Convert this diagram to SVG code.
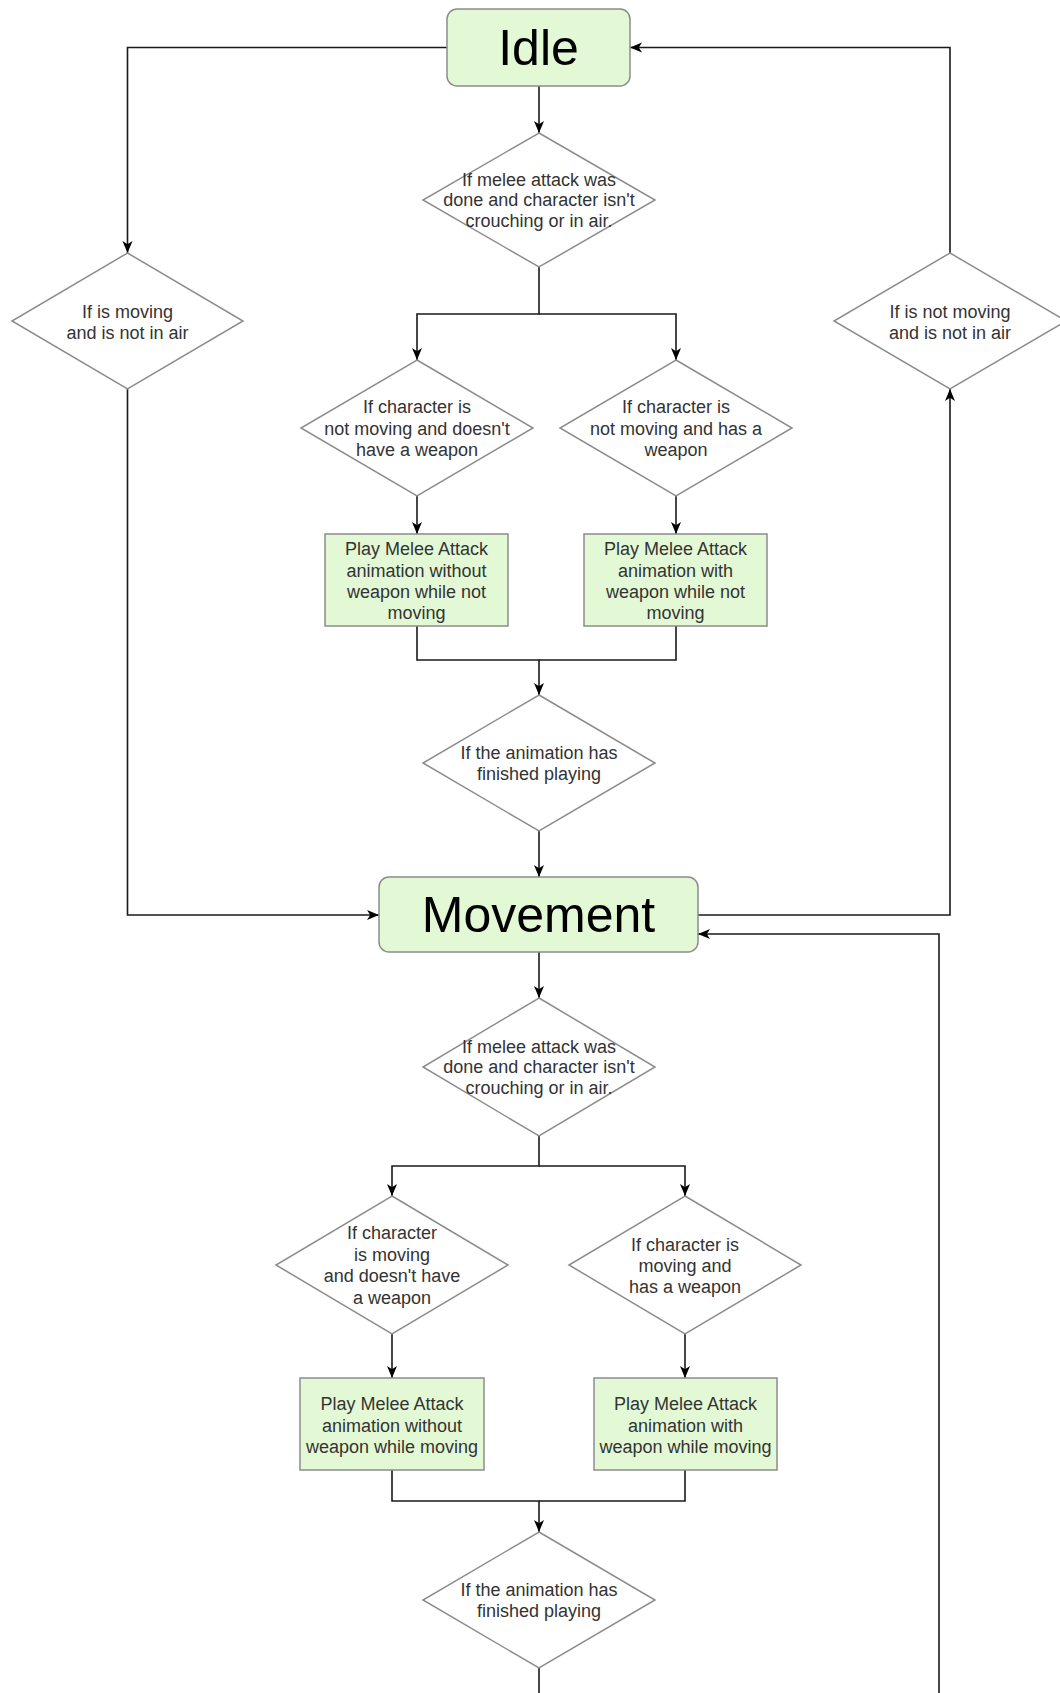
<svg xmlns="http://www.w3.org/2000/svg" width="1060" height="1693" viewBox="0 0 1060 1693">
  <style>
    .state { fill: #e3f9d5; stroke: #8c8c8c; stroke-width: 1.5; }
    .action { fill: #e3f9d5; stroke: #8c8c8c; stroke-width: 1.5; }
    .cond { fill: #ffffff; stroke: #8c8c8c; stroke-width: 1.5; }
    .edge { fill: none; stroke: #1a1a1a; stroke-width: 1.6; }
    .label { font-family: "Liberation Sans", Arial, sans-serif; font-size: 18px; fill: #333333; text-anchor: middle; }
    .title { font-family: "Liberation Sans", Arial, sans-serif; font-size: 50px; fill: #000000; text-anchor: middle; }
  </style>
  <defs>
    <marker id="arrow" markerWidth="13" markerHeight="12" refX="12" refY="5.5" orient="auto" markerUnits="userSpaceOnUse">
      <path d="M0,0.5 L12,5.5 L0,10.5 L3.2,5.5 Z" fill="#000000"/>
    </marker>
  </defs>
  <rect width="1060" height="1693" fill="#ffffff"/>

  <!-- connectors -->
  <g id="connectors">
    <path class="edge" d="M539,86 V133" marker-end="url(#arrow)"/>
    <path class="edge" d="M447,47.5 H127.5 V253" marker-end="url(#arrow)"/>
    <path class="edge" d="M950,253 V47.5 H630" marker-end="url(#arrow)"/>
    <path class="edge" d="M539,267 V314 H417 V360" marker-end="url(#arrow)"/>
    <path class="edge" d="M539,314 H676 V360" marker-end="url(#arrow)"/>
    <path class="edge" d="M417,496 V534" marker-end="url(#arrow)"/>
    <path class="edge" d="M676,496 V534" marker-end="url(#arrow)"/>
    <path class="edge" d="M417,626 V660 H539 V695" marker-end="url(#arrow)"/>
    <path class="edge" d="M676,626 V660 H539"/>
    <path class="edge" d="M539,831 V877" marker-end="url(#arrow)"/>
    <path class="edge" d="M127.5,389 V915 H379" marker-end="url(#arrow)"/>
    <path class="edge" d="M698,915 H950 V389" marker-end="url(#arrow)"/>
    <path class="edge" d="M539,952 V998" marker-end="url(#arrow)"/>
    <path class="edge" d="M539,1136 V1166 H392 V1196" marker-end="url(#arrow)"/>
    <path class="edge" d="M539,1166 H685 V1196" marker-end="url(#arrow)"/>
    <path class="edge" d="M392,1334 V1378" marker-end="url(#arrow)"/>
    <path class="edge" d="M685,1334 V1378" marker-end="url(#arrow)"/>
    <path class="edge" d="M392,1470 V1501 H539 V1532" marker-end="url(#arrow)"/>
    <path class="edge" d="M685,1470 V1501 H539"/>
    <!-- loop from the lower check back into Movement, routed below the page edge -->
    <path class="edge" d="M539,1668 V1730 H939 V934 H698" marker-end="url(#arrow)"/>
  </g>

  <!-- states -->
  <g id="idle">
    <rect class="state" x="447" y="9" width="183" height="77" rx="10"/>
    <text class="title" x="538.5" y="65">Idle</text>
  </g>
  <g id="movement">
    <rect class="state" x="379" y="877" width="319" height="75" rx="10"/>
    <text class="title" x="538.5" y="932">Movement</text>
  </g>

  <!-- idle branch -->
  <g id="idle-melee-check">
    <polygon class="cond" points="539,133 655,200 539,267 423,200"/>
    <text class="label" x="539" y="186">If melee attack was</text>
    <text class="label" x="539" y="206">done and character isn't</text>
    <text class="label" x="539" y="227">crouching or in air.</text>
  </g>
  <g id="to-movement-check">
    <polygon class="cond" points="127.5,253 243,321 127.5,389 12,321"/>
    <text class="label" x="127.5" y="318">If is moving</text>
    <text class="label" x="127.5" y="339">and is not in air</text>
  </g>
  <g id="to-idle-check">
    <polygon class="cond" points="950,253 1066,321 950,389 834,321"/>
    <text class="label" x="950" y="318">If is not moving</text>
    <text class="label" x="950" y="339">and is not in air</text>
  </g>
  <g id="idle-no-weapon-check">
    <polygon class="cond" points="417,360 533,428 417,496 301,428"/>
    <text class="label" x="417" y="413">If character is</text>
    <text class="label" x="417" y="435">not moving and doesn't</text>
    <text class="label" x="417" y="456">have a weapon</text>
  </g>
  <g id="idle-weapon-check">
    <polygon class="cond" points="676,360 792,428 676,496 560,428"/>
    <text class="label" x="676" y="413">If character is</text>
    <text class="label" x="676" y="435">not moving and has a</text>
    <text class="label" x="676" y="456">weapon</text>
  </g>
  <g id="idle-no-weapon-attack">
    <rect class="action" x="325" y="534" width="183" height="92"/>
    <text class="label" x="416.5" y="555">Play Melee Attack</text>
    <text class="label" x="416.5" y="577">animation without</text>
    <text class="label" x="416.5" y="598">weapon while not</text>
    <text class="label" x="416.5" y="619">moving</text>
  </g>
  <g id="idle-weapon-attack">
    <rect class="action" x="584" y="534" width="183" height="92"/>
    <text class="label" x="675.5" y="555">Play Melee Attack</text>
    <text class="label" x="675.5" y="577">animation with</text>
    <text class="label" x="675.5" y="598">weapon while not</text>
    <text class="label" x="675.5" y="619">moving</text>
  </g>
  <g id="idle-anim-finished">
    <polygon class="cond" points="539,695 655,763 539,831 423,763"/>
    <text class="label" x="539" y="759">If the animation has</text>
    <text class="label" x="539" y="780">finished playing</text>
  </g>

  <!-- movement branch -->
  <g id="move-melee-check">
    <polygon class="cond" points="539,998 655,1067 539,1136 423,1067"/>
    <text class="label" x="539" y="1053">If melee attack was</text>
    <text class="label" x="539" y="1073">done and character isn't</text>
    <text class="label" x="539" y="1094">crouching or in air.</text>
  </g>
  <g id="move-no-weapon-check">
    <polygon class="cond" points="392,1196 508,1265 392,1334 276,1265"/>
    <text class="label" x="392" y="1239">If character</text>
    <text class="label" x="392" y="1261">is moving</text>
    <text class="label" x="392" y="1282">and doesn't have</text>
    <text class="label" x="392" y="1304">a weapon</text>
  </g>
  <g id="move-weapon-check">
    <polygon class="cond" points="685,1196 801,1265 685,1334 569,1265"/>
    <text class="label" x="685" y="1251">If character is</text>
    <text class="label" x="685" y="1272">moving and</text>
    <text class="label" x="685" y="1293">has a weapon</text>
  </g>
  <g id="move-no-weapon-attack">
    <rect class="action" x="300" y="1378" width="184" height="92"/>
    <text class="label" x="392" y="1410">Play Melee Attack</text>
    <text class="label" x="392" y="1432">animation without</text>
    <text class="label" x="392" y="1453">weapon while moving</text>
  </g>
  <g id="move-weapon-attack">
    <rect class="action" x="594" y="1378" width="183" height="92"/>
    <text class="label" x="685.5" y="1410">Play Melee Attack</text>
    <text class="label" x="685.5" y="1432">animation with</text>
    <text class="label" x="685.5" y="1453">weapon while moving</text>
  </g>
  <g id="move-anim-finished">
    <polygon class="cond" points="539,1532 655,1600 539,1668 423,1600"/>
    <text class="label" x="539" y="1596">If the animation has</text>
    <text class="label" x="539" y="1617">finished playing</text>
  </g>
</svg>
